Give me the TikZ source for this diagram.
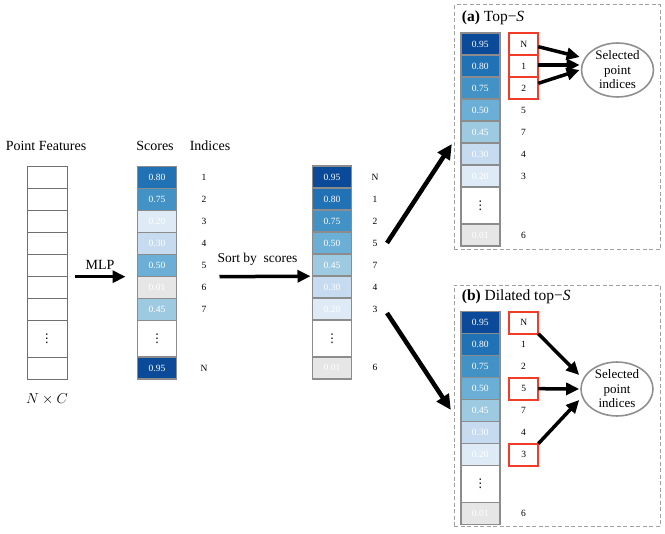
\documentclass[tikz,border=0pt]{standalone}
\usepackage{fontspec}
\setmainfont{Liberation Serif}
\newfontfamily\dejavu{DejaVu Sans}
\usetikzlibrary{arrows.meta,shapes.geometric}
\definecolor{c95}{HTML}{0A4A98}
\definecolor{c80}{HTML}{2171B5}
\definecolor{c75}{HTML}{4292C6}
\definecolor{c50}{HTML}{6BAED6}
\definecolor{c45}{HTML}{9ECAE1}
\definecolor{c30}{HTML}{C6DBEF}
\definecolor{c20}{HTML}{DEEBF7}
\definecolor{c01}{HTML}{E6E6E6}
\definecolor{cellborder}{HTML}{8C8C8C}
\definecolor{pfborder}{HTML}{707070}
\definecolor{redc}{HTML}{F03C28}
\definecolor{panelc}{HTML}{A0A0A0}
\definecolor{ellc}{HTML}{909090}
\newcommand{\vdts}{{\dejavu\fontsize{12}{12}\selectfont ⋮}}
\begin{document}
\begin{tikzpicture}[x=1pt,y=-1pt,
  cell/.style={draw=cellborder, line width=1.6pt, minimum width=39pt, minimum height=22pt, inner sep=0pt, outer sep=0pt, text=white, font=\fontsize{9.5}{10}\selectfont},
  dotcell/.style={cell, fill=white, minimum height=36.7pt, text=black},
  pfcell/.style={draw=pfborder, line width=0.8pt, minimum width=40pt, minimum height=22pt, inner sep=0pt, outer sep=0pt, fill=white},
  idx/.style={font=\fontsize{9.5}{10}\selectfont, inner sep=0pt, outer sep=0pt},
  redbox/.style={idx, draw=redc, line width=1.7pt, minimum width=29pt, minimum height=22pt},
  lab/.style={font=\fontsize{14}{16}\selectfont, inner sep=0pt},
  ttl/.style={font=\fontsize{15.5}{17}\selectfont, anchor=west, inner sep=0pt},
  panel/.style={draw=panelc, dash pattern=on 4pt off 2.5pt, line width=1pt, inner sep=0pt},
  sel/.style={ellipse, draw=ellc, line width=1.6pt, minimum width=72pt, minimum height=51pt, inner sep=0pt, align=center, font=\fontsize{13}{14.5}\selectfont},
  fat/.style={line width=4.5pt, -{Triangle[length=15pt,width=14pt]}},
  fatmid/.style={line width=3.5pt, -{Triangle[length=13pt,width=12pt]}},
  fatsm/.style={line width=3.5pt, -{Triangle[length=13pt,width=12pt]}}
]
\useasboundingbox (0,0) rectangle (665,534);

% headings
\node[lab] (hpf) at (46,146) {Point Features};
\node[lab] (hsc) at (155,146) {Scores};
\node[lab] (hid) at (210,146) {Indices};

% point features column
\foreach \i in {1,...,7} {
  \node[pfcell] (pf\i) at (47,{177.7+22*(\i-1)}) {};
}
\node[pfcell, minimum height=36.7pt] (pf8) at (47,339) {\vdts};
\node[pfcell] (pf9) at (47,368.3) {};
\node[lab] (nc) at (47,399) {$N\times C$};

% scores column
\foreach \i/\c/\v/\n in {1/c80/0.80/1,2/c75/0.75/2,3/c20/0.20/3,4/c30/0.30/4,5/c50/0.50/5,6/c01/0.01/6,7/c45/0.45/7} {
  \node[cell, fill=\c] (sc\i) at (157,{177.7+22*(\i-1)}) {\v};
  \node[idx] (sci\i) at (204,{177.7+22*(\i-1)}) {\n};
}
\node[dotcell] (sc8) at (157,339) {\vdts};
\node[cell, fill=c95] (sc9) at (157,368.3) {0.95};
\node[idx] (sci9) at (204,368.3) {N};

% sorted column
\foreach \i/\c/\v/\n in {1/c95/0.95/N,2/c80/0.80/1,3/c75/0.75/2,4/c50/0.50/5,5/c45/0.45/7,6/c30/0.30/4,7/c20/0.20/3} {
  \node[cell, fill=\c] (so\i) at (332,{177.2+22*(\i-1)}) {\v};
  \node[idx] (soi\i) at (375,{177.2+22*(\i-1)}) {\n};
}
\node[dotcell] (so8) at (332,338.5) {\vdts};
\node[cell, fill=c01] (so9) at (332,367.8) {0.01};
\node[idx] (soi9) at (375,367.8) {6};

% arrows MLP and sort
\draw[fatmid] ([xshift=8pt]pf5.south east) -- ([xshift=-12pt]sc5.south west);
\node[lab] (mlp) at (100,265) {MLP};
\draw[fatmid] ([xshift=43pt]sc5.south east) -- ([xshift=-2pt]so5.south west);
\node[lab, font=\fontsize{13.5}{15}\selectfont] (sortl) at (257.5,259.5) {Sort by\ \ scores};

% panels
\node[panel, minimum width=205.7pt, minimum height=245pt] (boxA) at (557.2,127.5) {};
\node[panel, minimum width=205.7pt, minimum height=241.7pt] (boxB) at (557.2,405.9) {};
\node[ttl] (ta) at (461.7,18) {\textbf{(a)} Top−\textit{S}};
\node[ttl] (tb) at (461.7,297) {\textbf{(b)} Dilated top−\textit{S}};

% panel (a) column
\foreach \i/\c/\v/\n in {1/c95/0.95/N,2/c80/0.80/1,3/c75/0.75/2,4/c50/0.50/5,5/c45/0.45/7,6/c30/0.30/4,7/c20/0.20/3} {
  \node[cell, fill=\c] (ac\i) at (480.3,{44.3+22*(\i-1)}) {\v};
}
\node[dotcell] (ac8) at (480.3,205.6) {\vdts};
\node[cell, fill=c01] (ac9) at (480.3,235) {0.01};
\node[redbox] (a1) at (523.8,44.3) {N};
\node[redbox] (a2) at (523.8,66.3) {1};
\node[redbox] (a3) at (523.8,88.3) {2};
\node[idx] (a4) at (523.5,110.3) {5};
\node[idx] (a5) at (523.5,132.3) {7};
\node[idx] (a6) at (523.5,154.3) {4};
\node[idx] (a7) at (523.5,176.3) {3};
\node[idx] (a9) at (523.5,235) {6};
\node[sel] (sel1) at (617.5,70) {Selected\\point\\indices};
\draw[fatsm] ([yshift=-2.4pt]a1.east) -- ([xshift=-1pt,yshift=13pt]sel1.west);
\draw[fatsm] ([yshift=1.3pt]a2.east) -- ([xshift=-1pt,yshift=5pt]sel1.west);
\draw[fatsm] ([yshift=5pt]a3.east) -- ([xshift=-1pt]sel1.west);

% panel (b) column
\foreach \i/\c/\v/\n in {1/c95/0.95/N,2/c80/0.80/1,3/c75/0.75/2,4/c50/0.50/5,5/c45/0.45/7,6/c30/0.30/4,7/c20/0.20/3} {
  \node[cell, fill=\c] (bc\i) at (480.3,{322.7+22*(\i-1)}) {\v};
}
\node[dotcell] (bc8) at (480.3,484) {\vdts};
\node[cell, fill=c01] (bc9) at (480.3,513.4) {0.01};
\node[redbox] (b1) at (523.8,322.7) {N};
\node[idx] (b2) at (523.5,344.7) {1};
\node[idx] (b3) at (523.5,366.7) {2};
\node[redbox] (b4) at (523.8,388.7) {5};
\node[idx] (b5) at (523.5,410.7) {7};
\node[idx] (b6) at (523.5,432.7) {4};
\node[redbox] (b7) at (523.8,454.7) {3};
\node[idx] (b9) at (523.5,513.4) {6};
\node[sel] (sel2) at (617,389) {Selected\\point\\indices};
\draw[fatsm] (b1.south east) -- ([xshift=-1pt,yshift=14pt]sel2.west);
\draw[fatsm] (b4.east) -- ([xshift=-1pt]sel2.west);
\draw[fatsm] (b7.north east) -- ([xshift=-1pt,yshift=-11pt]sel2.west);

% big diagonal arrows
\coordinate (u0) at (387,243);
\coordinate (d0) at (387,313);
\draw[fat] (u0) -- ([xshift=-2pt,yshift=-16.5pt]boxA.west);
\draw[fat] (d0) -- ([xshift=-3pt,yshift=-4pt]boxB.west);
\end{tikzpicture}
\end{document}
